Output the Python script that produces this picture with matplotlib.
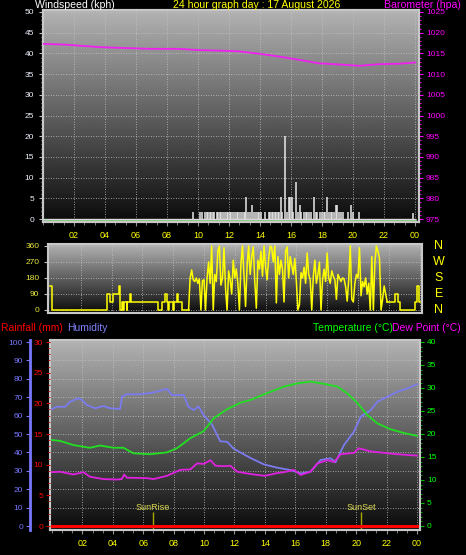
import matplotlib
matplotlib.use('Agg')
import matplotlib.pyplot as plt
import matplotlib.transforms as mtrans
from matplotlib.ticker import MultipleLocator, FixedLocator, FuncFormatter
import numpy as np

plt.rcParams['font.family'] = ['Liberation Sans', 'DejaVu Sans']

W, H = 466, 555

WHITE = '#ffffff'
YELLOW = '#ffff00'
MAGENTA = '#ff00ff'
GREEN = '#00ff00'
RED = '#ff0000'
BLUE = '#7878ff'
FRAME = '#c8c8c8'
GRID = '#c4c4c4'

TITLE = '24 hour graph day : 17 August 2026'

# --- barometer (hPa) ---
baro_hours = [0.0, 1.5, 3.7, 6.9, 8.8, 10.0, 12.0, 12.6, 14.0, 15.3, 16.6, 17.8, 19.2, 20.4, 21.7, 23.0, 24.0]
baro_hpa = [1017.3, 1017.1, 1016.5, 1016.1, 1016.1, 1015.8, 1015.6, 1015.5, 1014.9, 1014.2,
            1013.4, 1012.6, 1012.3, 1012.0, 1012.4, 1012.5, 1012.8]

# --- wind speed (kph), zero between the spikes ---
wind_hours = [9.66, 10.13, 10.24, 10.45, 10.55, 10.65, 10.75, 10.85, 10.95, 11.05, 11.2, 11.3,
              11.4, 11.5, 11.6, 11.75, 11.85, 11.95, 12.05, 12.15, 12.25, 12.4, 12.5, 12.6,
              12.7, 12.85, 12.95, 13.05, 13.12, 13.2, 13.35, 13.5, 13.6, 13.75, 13.85, 13.95,
              14.05, 14.3, 14.55, 14.65, 14.75, 14.85, 14.95, 15.05, 15.15, 15.25, 15.35, 15.45,
              15.62, 15.75, 15.85, 15.92, 16.05, 16.15, 16.3, 16.45, 16.55, 16.65, 16.85, 16.95,
              17.05, 17.15, 17.3, 17.5, 17.6, 17.7, 17.85, 18.0, 18.1, 18.2, 18.3, 18.45,
              18.55, 18.65, 18.8, 18.9, 19.0, 19.1, 19.2, 19.35, 19.7, 19.9, 20.0, 20.4, 23.9]
wind_kph = [1.7, 1.7, 1.7, 1.7, 1.7, 1.7, 1.7, 1.7, 1.7, 1.7, 1.7, 1.7,
            1.7, 1.7, 1.7, 1.7, 1.7, 1.7, 1.7, 1.7, 1.7, 1.7, 1.7, 1.7,
            1.7, 1.7, 1.7, 1.7, 5.3, 1.7, 1.7, 3.4, 1.7, 1.7, 1.7, 1.7,
            1.7, 1.7, 1.7, 1.7, 1.7, 1.7, 1.7, 1.7, 1.7, 1.7, 5.3, 1.7,
            20.0, 1.7, 5.3, 5.3, 5.3, 1.7, 8.9, 1.7, 3.4, 1.7, 1.7, 1.7,
            1.7, 1.7, 1.7, 5.3, 1.7, 1.7, 1.7, 1.7, 1.7, 1.7, 5.3, 1.7,
            1.7, 1.7, 1.7, 3.4, 3.4, 1.7, 1.7, 1.7, 1.7, 3.4, 1.7, 1.7, 1.5]
avg_hours = [0, 24]
avg_kph = [0, 0]

# --- wind direction (deg) ---
dir_calm_hours = [0.0, 0.1, 3.70, 3.90, 4.11, 4.48, 4.55, 4.65, 4.76, 4.80, 4.98, 5.02, 5.19,
                  5.26, 7.03, 7.25, 7.46, 7.58, 7.68, 7.72, 8.01, 8.05, 8.27, 8.33, 8.55, 9.0]
dir_calm_deg = [135, 0, 90, 45, 90, 135, 0, 45, 0, 45, 0, 45, 90,
                45, 0, 45, 90, 45, 0, 45, 0, 45, 90, 45, 0, 0]
dir_busy_start = 9.0   # one reading every 6 minutes from here
dir_busy_deg = [
    0, 180, 225, 170, 160, 180, 150, 175, 0, 165,
    170, 0, 180, 270, 150, 360, 0, 200, 160, 330,
    360, 140, 180, 350, 120, 0, 220, 170, 90, 280,
    180, 230, 150, 0, 260, 360, 190, 20, 250, 360,
    200, 300, 355, 160, 10, 280, 230, 330, 190, 360,
    240, 170, 290, 360, 350, 270, 360, 40, 300, 200,
    280, 230, 45, 330, 355, 180, 300, 250, 200, 290,
    160, 0, 30, 210, 180, 240, 150, 320, 200, 170,
    0, 190, 280, 150, 200, 270, 0, 170, 230, 160,
    320, 180, 150, 220, 190, 170, 60, 200, 180, 160,
    180, 175, 130, 50, 170, 360, 60, 45, 150, 200,
    180, 350, 80, 160, 130, 180, 90, 150, 0, 300,
    0, 270, 360, 330, 290, 0, 60, 135, 90, 45]
dir_tail_hours = [21.9, 22.0, 22.4, 22.6, 22.75, 23.7, 23.85, 23.95, 24.0]
dir_tail_deg = [45, 45, 90, 45, 0, 45, 135, 45, 45]
compass = ['N', 'W', 'S', 'E', 'N']
compass_deg = [360, 270, 180, 90, 0]

# --- temperature, dew point, humidity, rain ---
temp_hours = [0.0, 0.53, 1.4, 2.5, 3.16, 4.04, 4.7, 5.36, 6.46, 7.56, 8.22, 9.1, 9.97, 10.63,
              11.52, 12.39, 13.05, 13.93, 15.25, 16.13, 17.0, 17.88, 18.77, 19.43, 20.09,
              20.74, 21.4, 22.28, 23.16, 24.0]
temp_c = [18.7, 18.5, 17.6, 17.0, 17.5, 17.0, 17.0, 15.8, 15.6, 16.0, 16.9, 19.1, 20.6, 23.4,
          25.4, 26.8, 27.4, 28.6, 30.3, 31.0, 31.4, 30.9, 30.3, 28.8, 26.7, 24.1, 22.3, 21.0,
          20.2, 19.6]
dew_hours = [0.0, 0.53, 1.4, 2.07, 2.5, 3.38, 4.26, 4.59, 4.75, 4.92, 6.24, 6.68, 7.56, 8.44,
             9.1, 9.54, 9.97, 10.42, 10.75, 11.3, 11.73, 12.18, 13.05, 14.0, 14.8, 15.25, 15.91,
             16.35, 17.0, 17.45, 18.11, 18.55, 18.98, 19.86, 20.19, 20.96, 21.84, 22.72, 24.0]
dew_c = [11.7, 11.8, 11.2, 11.7, 10.7, 10.2, 10.1, 10.2, 11.2, 10.5, 10.4, 10.2, 10.9, 12.2,
         12.3, 13.6, 13.5, 14.3, 13.1, 13.0, 13.1, 11.8, 11.3, 10.9, 11.5, 11.7, 12.2,
         11.1, 11.8, 13.6, 14.3, 13.9, 15.6, 15.9, 16.9, 16.2, 15.9, 15.6, 15.3]
hum_hours = [0.0, 0.3, 0.86, 1.19, 1.73, 1.96, 2.29, 2.83, 3.38, 3.82, 4.48, 4.6, 4.92, 5.8,
             6.68, 7.56, 7.89, 8.66, 8.98, 9.31, 9.64, 9.97, 10.53, 11.07, 11.52, 11.95, 12.39,
             13.05, 13.93, 14.81, 15.69, 16.35, 17.0, 17.67, 18.33, 18.64, 19.2, 19.86, 20.3,
             20.96, 21.4, 22.06, 22.72, 23.38, 24.0]
hum_pct = [63.6, 64.8, 64.8, 67.6, 69.4, 68.6, 65.8, 64.0, 65.2, 64.0, 63.6, 70.3, 71.6, 71.6,
           72.6, 74.5, 71.2, 71.2, 64.8, 63.0, 65.0, 60.3, 55.0, 46.0, 45.8, 42.0, 40.0,
           37.0, 33.5, 31.7, 30.4, 28.6, 29.5, 35.9, 36.8, 34.6, 44.0, 51.3, 59.4,
           63.0, 67.6, 70.3, 73.0, 74.8, 77.0]
rain_hours = [0, 24]
rain_mm = [0, 0]
sun_hours = [6.64, 20.35]
sun_labels = ['SunRise', 'SunSet']
hour_ticks = [2, 4, 6, 8, 10, 12, 14, 16, 18, 20, 22, 24]


def hour_label(v, pos):
    return f'{int(round(v)) % 24:02d}'


def shade(ax):
    # grey-to-black background of the plot area
    grad = np.linspace(0.70, 0.04, 256).reshape(-1, 1)
    ax.imshow(grad, cmap='gray', vmin=0, vmax=1, aspect='auto', extent=(0, 1, 0, 1),
              transform=ax.transAxes, zorder=0, interpolation='bilinear')


def frame(ax):
    for s in ax.spines.values():
        s.set_color(FRAME)
        s.set_linewidth(1.5)


def time_axis(ax, show_labels=True):
    ax.xaxis.set_major_locator(FixedLocator(hour_ticks))
    ax.xaxis.set_minor_locator(MultipleLocator(2 / 3))
    ax.xaxis.set_major_formatter(FuncFormatter(hour_label))
    ax.tick_params(axis='x', which='both', colors='#909090', labelcolor=YELLOW,
                   labelsize=6.5, length=3, pad=3.5, labelbottom=show_labels)
    ax.tick_params(axis='x', which='minor', length=2)
    ax.grid(True, axis='x', which='major', color=GRID, linestyle=(0, (1, 2)), linewidth=0.6)


def px(x, y):
    return x / W, 1 - y / H


fig = plt.figure(figsize=(W / 100, H / 100), dpi=100, facecolor='black')

# ---------------- panel 1: wind speed + barometer ----------------
ax1 = fig.add_axes([43 / W, 1 - 222 / H, 376 / W, 212 / H])
shade(ax1)
ax1.set_xlim(0, 24.26)
ax1.set_ylim(-0.72, 50.48)
ax1.yaxis.set_major_locator(MultipleLocator(5))
ax1.yaxis.set_minor_locator(MultipleLocator(1))
ax1.tick_params(axis='y', which='both', colors='#c0c0c0', labelcolor='#eef2ff',
                labelsize=6, length=3, pad=3.5)
ax1.tick_params(axis='y', which='minor', length=1.5)
ax1.grid(True, axis='y', which='major', color=GRID, linestyle=(0, (1, 2)), linewidth=0.6)
time_axis(ax1)
frame(ax1)

shift = mtrans.ScaledTranslation(0, -2 / 100, fig.dpi_scale_trans)
ax1.plot(avg_hours, avg_kph, color='#80e080', lw=2, transform=ax1.transData + shift, zorder=3)
ax1.plot([0, 24], [0, 0], color='#d8d8d8', lw=1, zorder=3)
ax1.vlines(wind_hours, 0, wind_kph, color='#e8e8e8', lw=1.1, zorder=4)

ax1b = ax1.twinx()
ax1b.set_ylim(975 - 0.72, 1025.48)
ax1b.yaxis.set_major_locator(MultipleLocator(5))
ax1b.yaxis.set_minor_locator(MultipleLocator(1))
ax1b.tick_params(axis='y', which='both', colors=MAGENTA, labelcolor=MAGENTA,
                 labelsize=6, length=3, pad=2)
ax1b.tick_params(axis='y', which='minor', length=1.5)
frame(ax1b)
ax1b.plot(baro_hours, baro_hpa, color='#f020f0', lw=1.3, zorder=5)

fig.text(*px(35, 8.5), 'Windspeed (kph)', color=WHITE, fontsize=7.6, ha='left', va='baseline')
fig.text(*px(257, 8.5), TITLE, color=YELLOW, fontsize=7.6, ha='center', va='baseline')
fig.text(*px(461, 8.5), 'Barometer (hpa)', color=MAGENTA, fontsize=7.6, ha='right', va='baseline')

# ---------------- panel 2: wind direction ----------------
ax2 = fig.add_axes([47.7 / W, 1 - 313 / H, 374 / W, 69 / H])
shade(ax2)
ax2.set_xlim(-0.15, 24.14)
ax2.set_ylim(-17, 371)
ax2.yaxis.set_major_locator(FixedLocator([0, 90, 180, 270, 360]))
ax2.tick_params(axis='y', colors='#c0c0c0', labelcolor='#e8e840', labelsize=6, length=3, pad=3)
time_axis(ax2, show_labels=False)
ax2.tick_params(axis='x', which='both', length=0)
ax2.grid(True, axis='y', color=GRID, linestyle=(0, (1, 2)), linewidth=0.6)
frame(ax2)

busy_hours = dir_busy_start + np.arange(len(dir_busy_deg)) * 0.1
ax2.plot(dir_calm_hours, dir_calm_deg, color=YELLOW, lw=1.1, drawstyle='steps-post', zorder=3)
ax2.plot(busy_hours, dir_busy_deg, color=YELLOW, lw=1.1, zorder=3)
ax2.plot(dir_tail_hours, dir_tail_deg, color=YELLOW, lw=1.1, drawstyle='steps-post', zorder=3)

lab_tr = mtrans.blended_transform_factory(ax2.transAxes, ax2.transData)
for name, deg in zip(compass, compass_deg):
    ax2.text(1.046, deg, name, color=YELLOW, fontsize=9, ha='center', va='center',
             transform=lab_tr, clip_on=False)

# ---------------- panel 3: temperature / humidity / rain ----------------
ax3 = fig.add_axes([50 / W, 1 - 530 / H, 370 / W, 190 / H])
shade(ax3)
ax3.set_xlim(-0.13, 24.2)
ax3.set_ylim(-2.17, 101.1)
ax3.yaxis.set_major_locator(MultipleLocator(10))
ax3.tick_params(axis='y', colors=BLUE, labelcolor=BLUE, labelsize=6, length=3, pad=2)
ax3.grid(True, axis='y', color=GRID, linestyle=(0, (1, 2)), linewidth=0.6)
time_axis(ax3)
frame(ax3)
ax3.spines['left'].set_position(('axes', -20 / 370))
ax3.spines['left'].set_color(BLUE)
ax3.spines['left'].set_linewidth(2)
ax3.spines['top'].set_visible(False)
ax3.spines['right'].set_visible(False)
ax3.plot(hum_hours, hum_pct, color='#7b7bf0', lw=1.3, zorder=3)

ax3t = ax3.twinx()
ax3t.set_ylim(-0.87, 40.43)
ax3t.yaxis.set_major_locator(MultipleLocator(5))
ax3t.yaxis.set_minor_locator(MultipleLocator(1))
ax3t.tick_params(axis='y', which='both', colors='#00c000', labelcolor=GREEN,
                 labelsize=6, length=3, pad=2)
ax3t.tick_params(axis='y', which='minor', length=1.5)
frame(ax3t)
ax3t.plot(temp_hours, temp_c, color='#20e020', lw=1.3, zorder=3)
ax3t.plot(dew_hours, dew_c, color='#e020e0', lw=1.3, zorder=3)
for h, name in zip(sun_hours, sun_labels):
    ax3t.vlines(h, -0.87, 3.0, color='#a8a800', lw=1, zorder=2)
    ax3t.text(h, 4.1, name, color='#d8d850', fontsize=6.5, ha='center', va='center')

ax3r = ax3.twinx()
ax3r.set_ylim(-0.65, 30.33)
ax3r.yaxis.tick_left()
ax3r.yaxis.set_major_locator(MultipleLocator(5))
ax3r.yaxis.set_minor_locator(MultipleLocator(1))
ax3r.tick_params(axis='y', which='both', colors='#d00000', labelcolor=RED,
                 labelsize=6, length=3, pad=2)
ax3r.tick_params(axis='y', which='minor', length=1.5)
for s in ax3r.spines.values():
    s.set_visible(False)
ax3r.plot(rain_hours, rain_mm, color=RED, lw=2.2, zorder=4)

fig.text(*px(1, 331), 'Rainfall (mm)', color=RED, fontsize=7.5, ha='left', va='baseline')
fig.text(*px(67, 331), 'Humidity', color='#8080ff', fontsize=7.5, ha='left', va='baseline')
fig.text(*px(313, 331), 'Temperature (°C)', color=GREEN, fontsize=7.5, ha='left', va='baseline')
fig.text(*px(461, 331), 'Dew Point (°C)', color=MAGENTA, fontsize=7.5, ha='right', va='baseline')

fig.savefig('out.png', dpi=100, facecolor='black')
